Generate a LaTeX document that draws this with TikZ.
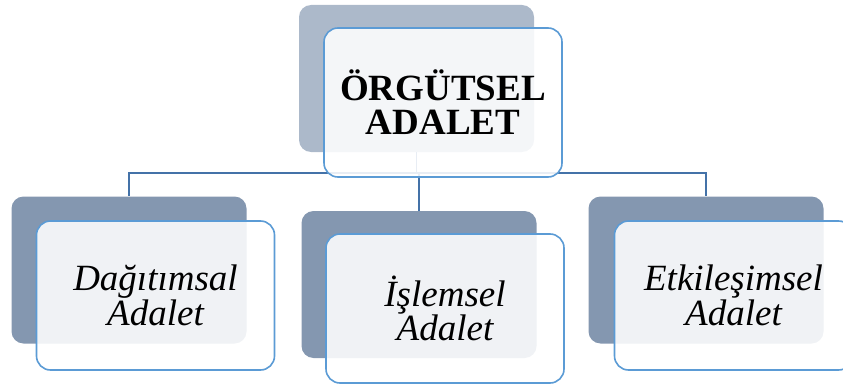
\documentclass[tikz,border=0pt]{standalone}
\usepackage{fontspec}
\setmainfont{Liberation Serif}
\definecolor{topback}{HTML}{ACB9CA}
\definecolor{childback}{HTML}{8497B0}
\definecolor{frameblue}{HTML}{5B9BD5}
\definecolor{connblue}{HTML}{4472A8}
\tikzset{
  backbox/.style={rectangle, rounded corners=12pt, inner sep=0pt, minimum width=235pt, minimum height=147pt},
  frontbox/.style={rectangle, rounded corners=14pt, inner sep=0pt, draw=frameblue, line width=1.6pt,
    fill=white, fill opacity=0.88, text opacity=1, minimum width=238pt, minimum height=149pt, align=center},
  conn/.style={draw=connblue, line width=1.8pt},
  toptext/.style={font=\fontsize{37}{34}\selectfont\bfseries},
  childtext/.style={font=\fontsize{37}{32}\selectfont\itshape}
}
\begin{document}
\begin{tikzpicture}[x=1pt,y=-1pt]
\useasboundingbox (0,0) rectangle (843,385);
\clip (0,0) rectangle (843,385);
% back boxes
\node[backbox, fill=topback] (tb) at (416.5,78.5) {};
\node[backbox, fill=childback] (lb) at (129,270) {};
\node[backbox, fill=childback] (mb) at (419,284.5) {};
\node[backbox, fill=childback] (rb) at (706,270) {};
% connectors
\coordinate (bus) at (416.5,173);
\draw[conn] (tb.south) -- (bus);
\draw[conn] (bus) -| (lb.north);
\draw[conn] (bus) -| (mb.north);
\draw[conn] (bus) -| (rb.north);
% front boxes
\node[frontbox, toptext] (tf) at (443,102.5) {ÖRGÜTSEL\\ADALET};
\node[frontbox, childtext] (lf) at (155.5,295.5) {Dağıtımsal\\Adalet};
\node[frontbox, childtext] (mf) at (445,308.5) {İşlemsel\\Adalet};
\node[frontbox, childtext] (rf) at (733.5,295.5) {Etkileşimsel\\Adalet};
\end{tikzpicture}
\end{document}
